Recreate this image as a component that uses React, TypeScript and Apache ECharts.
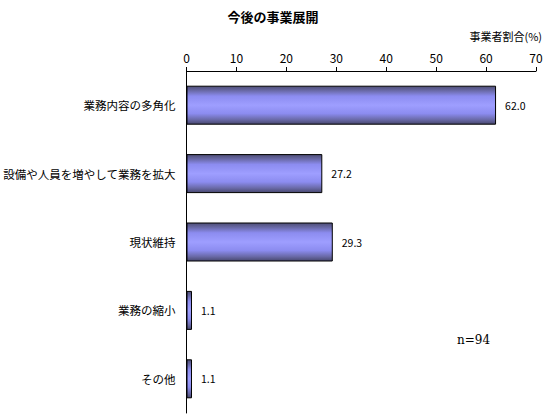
import React, { useEffect, useRef } from 'react';
import * as echarts from 'echarts';

const categories = ['業務内容の多角化', '設備や人員を増やして業務を拡大', '現状維持', '業務の縮小', 'その他'];
const shares = [62.0, 27.2, 29.3, 1.1, 1.1];
const axisTicks = [0, 10, 20, 30, 40, 50, 60, 70];

const FONT = '"Noto Sans CJK JP", "DejaVu Sans", sans-serif';

const App = () => {
  const chartRef = useRef<HTMLDivElement>(null);

  useEffect(() => {
    if (!chartRef.current) return;
    document.body.style.margin = '0';

    const chart = echarts.init(chartRef.current, null, { renderer: 'svg' });

    const barFill = new echarts.graphic.LinearGradient(0, 0, 0, 1, [
      { offset: 0, color: '#4e4e76' },
      { offset: 0.12, color: '#6a6aa8' },
      { offset: 0.26, color: '#8c8cf0' },
      { offset: 0.5, color: '#9e9eff' },
      { offset: 0.72, color: '#8c8cf0' },
      { offset: 0.88, color: '#6a6aa8' },
      { offset: 1, color: '#48486e' },
    ]);

    chart.setOption({
      animation: false,
      backgroundColor: '#fff',
      title: {
        text: '今後の事業展開',
        left: 'center',
        top: 5,
        textStyle: { fontFamily: FONT, fontSize: 13, fontWeight: 'bold', color: '#000' },
      },
      grid: { left: 186, right: 10, top: 71, bottom: 7 },
      xAxis: {
        type: 'value',
        position: 'top',
        min: axisTicks[0],
        max: axisTicks[axisTicks.length - 1],
        interval: 10,
        name: '事業者割合(%)',
        nameLocation: 'end',
        nameGap: 0,
        nameTextStyle: {
          fontFamily: FONT,
          fontSize: 11,
          color: '#000',
          align: 'right',
          verticalAlign: 'bottom',
          padding: [0, -6, 30, 0],
        },
        axisLine: { show: true, lineStyle: { color: '#000', width: 1 } },
        axisTick: { show: true, length: 4, lineStyle: { color: '#000' } },
        axisLabel: { fontFamily: FONT, fontSize: 12, color: '#000', margin: 8 },
        splitLine: { show: false },
      },
      yAxis: {
        type: 'category',
        data: categories,
        inverse: true,
        axisLine: { show: true, lineStyle: { color: '#000', width: 1 } },
        axisTick: { show: false },
        axisLabel: { fontFamily: FONT, fontSize: 11.5, color: '#000', margin: 11 },
      },
      series: [
        {
          type: 'bar',
          data: shares,
          barWidth: 39,
          itemStyle: { color: barFill, borderColor: '#000', borderWidth: 1 },
          label: {
            show: true,
            position: 'right',
            distance: 9,
            formatter: (p: any) => Number(p.value).toFixed(1),
            fontFamily: FONT,
            fontSize: 10.5,
            color: '#000',
          },
        },
      ],
      graphic: [
        {
          type: 'text',
          left: 457,
          top: 334,
          style: { text: 'n=94', font: '12px "DejaVu Serif", serif', fill: '#000' },
        },
      ],
    });

    return () => {
      chart.dispose();
    };
  }, []);

  return <div ref={chartRef} style={{ width: 546, height: 420 }} />;
};

export default App;
